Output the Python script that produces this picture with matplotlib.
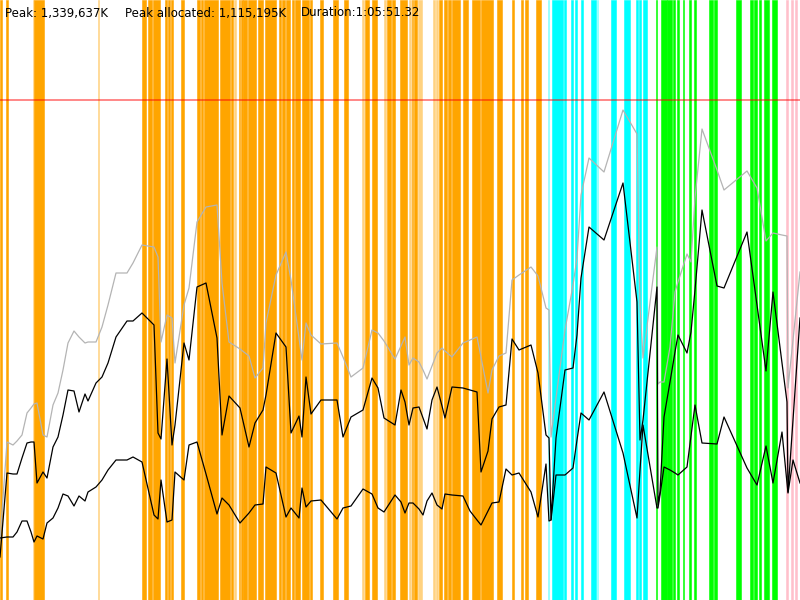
import matplotlib
matplotlib.use("Agg")
import matplotlib.pyplot as plt

# memory timeline; time in 1/800 of the run, memory in steps of 2.68 MB
# (peak 1,339,637K sits at 500)
t = [0, 7, 13, 17, 22, 27, 31, 34, 37, 43,
     47, 53, 58, 63, 68, 74, 79, 85, 88, 96,
     102, 108, 116, 127, 133, 142, 154, 158, 161, 167,
     172, 175, 184, 189, 197, 206, 217, 222, 229, 240,
     249, 255, 263, 266, 276, 286, 291, 299, 302, 306,
     311, 321, 337, 343, 351, 363, 372, 378, 384, 395,
     401, 405, 409, 413, 419, 423, 427, 432, 437, 442,
     445, 452, 463, 470, 477, 481, 488, 492, 499, 506,
     512, 519, 531, 538, 546, 549, 551, 556, 565, 573,
     577, 581, 589, 604, 623, 637, 640, 643, 657, 658,
     660, 664, 670, 675, 678, 687, 691, 695, 702, 717,
     724, 747, 757, 766, 773, 782, 787, 788, 793, 800]

committed = [60, 158, 155, 159, 165, 187, 192, 196, 197, 165,
             163, 195, 207, 230, 257, 269, 263, 257, 258, 258,
             273, 295, 327, 327, 337, 355, 353, 343, 258, 285,
             282, 237, 295, 312, 378, 393, 395, 317, 258, 251,
             244, 222, 232, 277, 325, 348, 320, 262, 240, 277,
             265, 256, 257, 243, 223, 232, 270, 267, 259, 241,
             254, 263, 235, 242, 238, 230, 221, 234, 247, 252,
             249, 243, 257, 260, 263, 243, 207, 230, 244, 247,
             320, 325, 333, 324, 292, 290, 163, 202, 270, 315,
             342, 405, 442, 428, 490, 466, 295, 242, 353, 216,
             218, 218, 253, 308, 318, 346, 338, 402, 471, 430,
             410, 429, 412, 359, 367, 365, 364, 212, 260, 328]

allocated = [43, 127, 126, 126, 142, 157, 158, 158, 117, 128,
             122, 153, 163, 185, 210, 209, 188, 206, 199, 217,
             223, 237, 263, 279, 279, 287, 275, 167, 161, 241,
             155, 175, 257, 240, 313, 317, 262, 165, 204, 192,
             153, 177, 190, 205, 267, 253, 167, 184, 163, 223,
             186, 200, 200, 163, 183, 190, 222, 212, 182, 175,
             210, 198, 175, 192, 193, 182, 171, 200, 213, 194,
             182, 213, 212, 210, 208, 128, 149, 181, 193, 195,
             261, 250, 255, 227, 165, 162, 80, 162, 230, 232,
             265, 322, 373, 360, 417, 298, 160, 180, 313, 95,
             108, 183, 218, 248, 265, 247, 268, 310, 390, 314,
             312, 368, 295, 229, 308, 237, 198, 108, 180, 282]

floor = [62, 63, 63, 68, 79, 79, 68, 58, 64, 61,
         77, 82, 92, 106, 104, 94, 104, 99, 108, 113,
         120, 130, 140, 140, 143, 138, 85, 81, 120, 78,
         80, 128, 120, 155, 158, 126, 86, 102, 95, 77,
         87, 95, 96, 133, 127, 83, 92, 82, 112, 93,
         99, 100, 81, 92, 94, 111, 106, 92, 88, 105,
         98, 87, 97, 97, 91, 85, 99, 107, 95, 91,
         106, 105, 104, 89, 80, 75, 89, 97, 98, 131,
         125, 127, 108, 83, 136, 79, 80, 125, 125, 132,
         160, 187, 180, 208, 147, 82, 130, 175, 92, 92,
         105, 133, 130, 127, 125, 133, 164, 195, 157, 156,
         183, 132, 115, 154, 117, 168, 117, 107, 140, 117]

peak = 500

# event spans (start, end) on the same time scale
orange_spans = [(0, 1.7), (6, 7.7), (34.3, 44), (142.3, 146), (147.7, 151.7),
                (152.7, 160), (165, 166.7), (167.7, 170), (170.7, 172.7), (181, 184.3),
                (196.7, 200), (201, 202.7), (204, 218.3), (220, 230), (231, 233.3),
                (239, 240), (241.3, 242.7), (243.3, 246.7), (247.7, 256), (258.3, 263.3),
                (265, 276), (279, 281), (281.7, 285), (286, 290.3), (291.7, 293.7),
                (295, 300), (301.7, 309), (310, 311.7), (320, 322.7), (332.7, 337.7),
                (344, 348.3), (365, 369), (371.7, 376.7), (386.7, 391), (391.7, 395),
                (400, 406.7), (411.7, 413.3), (414.3, 416.7), (439, 441.7), (444, 446.7),
                (448.3, 451), (452.3, 460), (463.3, 468.3), (471.7, 480), (480.7, 493.3),
                (496.7, 501.7), (511.7, 513.7), (521, 523.3), (525, 528), (536, 541)]
orange_light = [(33, 34.3), (97.7, 99.3), (234.3, 236), (362.3, 363.7), (384, 385.7),
                (409, 410.7), (418.3, 421.7), (432.7, 435), (435.7, 438.3)]
cyan_spans = [(551.7, 563.3), (564.3, 566), (570.7, 572.7), (575, 577.3), (580.7, 582.7),
              (591, 596), (611, 616), (624, 630), (635.7, 638.3), (639, 640.7),
              (642.7, 646.7)]
cyan_light = [(547.7, 549), (597.3, 598.3)]
green_spans = [(656, 657.3), (660.7, 666.7), (667.3, 671.7), (672.7, 675), (676.7, 679),
               (682.7, 684), (689, 691), (694, 695.7), (709, 713.3), (714.3, 717.3),
               (735.7, 741), (750, 753.3), (754, 757.3), (759.3, 760.7), (764, 769),
               (771.7, 776.7)]
pink_spans = [(786, 788.3), (790.7, 793.3), (795, 796.7)]

fig = plt.figure(figsize=(8, 6), dpi=100)
ax = fig.add_axes([0, 0, 1, 1])
ax.set_xlim(0, 800)
ax.set_ylim(0, 600)
ax.set_axis_off()

for spans, col in [(orange_light, "#ffd280"), (cyan_light, "#80ffff"),
                   (orange_spans, "#ffa500"), (cyan_spans, "#00ffff"),
                   (green_spans, "#00ff00"), (pink_spans, "#ffc0cb")]:
    for s, e in spans:
        ax.axvspan(s, e, facecolor=col, edgecolor=col, lw=0.4, zorder=1)

ax.axhline(peak, color="red", alpha=0.55, lw=1.2, zorder=2)

ax.plot(t, committed, color="#b4b4b4", lw=0.9, zorder=3)
ax.plot(t, allocated, color="black", lw=0.9, zorder=4)
ax.plot(t, floor, color="black", lw=0.9, zorder=4)

y_txt = 1 - 13 / 600
fig.text(5 / 800, y_txt, "Peak: 1,339,637K", fontsize=8.5, va="center")
fig.text(125 / 800, y_txt, "Peak allocated: 1,115,195K", fontsize=8.5, va="center")
fig.text(301 / 800, y_txt, "Duration:1:05:51.32", fontsize=8.5, va="center")

fig.savefig("out.png", dpi=100)
